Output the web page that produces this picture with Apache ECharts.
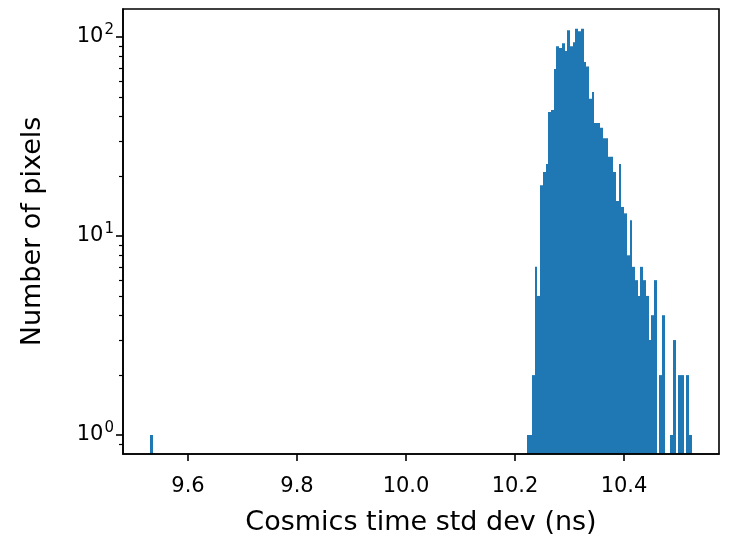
<!DOCTYPE html>
<html>
<head>
<meta charset="utf-8">
<script src="https://cdn.jsdelivr.net/npm/echarts@6/dist/echarts.min.js"></script>
<style>
html,body{margin:0;padding:0;background:#fff;}
#chart{width:729px;height:537px;}
</style>
</head>
<body>
<div id="chart"></div>
<script>
// Histogram definition
const histMin = 9.5304;
const histMax = 10.5246;
const binCount = 200;
// non-empty bins: index of bin and its count
const binIndex = [0, 139, 140, 141, 142, 143, 144, 145, 146, 147, 148, 149, 150, 151, 152, 153, 154, 155, 156, 157, 158, 159,
  160, 161, 162, 163, 164, 165, 166, 167, 168, 169, 170, 171, 172, 173, 174, 175, 176, 177, 178, 179,
  180, 181, 182, 183, 184, 185, 186, 188, 189, 192, 193, 195, 196, 198, 199];
const counts = [1, 1, 1, 2, 7, 5, 18, 21, 23, 42, 43, 69, 90, 88, 93, 85, 108, 90, 94, 110, 107, 110,
  75, 71, 49, 53, 37, 37, 35, 31, 31, 25, 25, 21, 15, 23, 14, 13, 8, 12, 7, 6,
  5, 7, 6, 5, 3, 4, 6, 2, 4, 1, 3, 2, 2, 2, 1];

// Axes
const xMin = 9.4807, xMax = 10.5743;
const yMin = 0.8027, yMax = 138.3;
const xTicks = [9.6, 9.8, 10.0, 10.2, 10.4];
const yTicks = [1, 10, 100];
const yTickExp = ['0', '1', '2'];
const yMinorTicks = [0.9, 2, 3, 4, 5, 6, 7, 8, 9, 20, 30, 40, 50, 60, 70, 80, 90];
const xName = 'Cosmics time std dev (ns)';
const yName = 'Number of pixels';

const binWidth = (histMax - histMin) / binCount;
const data = binIndex.map((b, i) => [histMin + b * binWidth, histMin + (b + 1) * binWidth, counts[i]]);

const FONT = 'DejaVu Sans';
const chart = echarts.init(document.getElementById('chart'), null, {renderer: 'canvas'});
chart.setOption({
  animation: false,
  backgroundColor: '#fff',
  textStyle: {fontFamily: FONT},
  grid: {left: 123, right: 10, top: 9, bottom: 83, outerBoundsMode: 'none', containLabel: false,
    show: true, borderColor: '#000', borderWidth: 1.6, z: 5, backgroundColor: 'transparent'},
  xAxis: {
    type: 'value', min: xMin, max: xMax, z: 5,
    axisLine: {show: true, lineStyle: {color: '#000', width: 1.6}},
    axisTick: {show: true, customValues: xTicks, length: 7, lineStyle: {color: '#000', width: 1.6}},
    axisLabel: {customValues: xTicks, formatter: v => v.toFixed(1), color: '#000', fontSize: 21, fontFamily: FONT, margin: 22},
    splitLine: {show: false},
    name: xName, nameLocation: 'middle', nameGap: 55,
    nameTextStyle: {color: '#000', fontSize: 27, fontFamily: FONT}
  },
  yAxis: [{
    type: 'log', logBase: 10, min: yMin, max: yMax, z: 5,
    axisLine: {show: true, lineStyle: {color: '#000', width: 1.6}},
    axisTick: {show: true, customValues: yTicks, length: 7, lineStyle: {color: '#000', width: 1.6}},
    axisLabel: {
      customValues: yTicks, color: '#000', fontFamily: FONT, margin: 9,
      formatter: v => '{b|10}{s|' + yTickExp[yTicks.indexOf(Math.round(v))] + '}',
      rich: {
        b: {fontSize: 21, lineHeight: 21, fontFamily: FONT, color: '#000'},
        s: {fontSize: 15, lineHeight: 15, fontFamily: FONT, color: '#000', padding: [0, 0, 14, 1]}
      }
    },
    splitLine: {show: false},
    name: yName, nameLocation: 'middle', nameGap: 77,
    nameTextStyle: {color: '#000', fontSize: 27, fontFamily: FONT}
  }, {
    type: 'log', logBase: 10, min: yMin, max: yMax, z: 5, position: 'left',
    axisLine: {show: false},
    axisTick: {show: true, customValues: yMinorTicks, length: 4, lineStyle: {color: '#000', width: 1.2}},
    axisLabel: {show: false},
    splitLine: {show: false}
  }],
  series: [{
    type: 'custom',
    z: 1,
    xAxisIndex: 0, yAxisIndex: 0,
    encode: {x: [0, 1], y: 2},
    data: data,
    renderItem: function (params, api) {
      const p0 = api.coord([api.value(0), api.value(2)]);
      const p1 = api.coord([api.value(1), yMin]);
      const x0 = Math.round(p0[0]), x1 = Math.round(p1[0]);
      return {
        type: 'rect',
        shape: {x: x0, y: p0[1], width: x1 - x0, height: p1[1] - p0[1]},
        style: {fill: '#1f77b4'}
      };
    }
  }]
});
</script>
</body>
</html>
